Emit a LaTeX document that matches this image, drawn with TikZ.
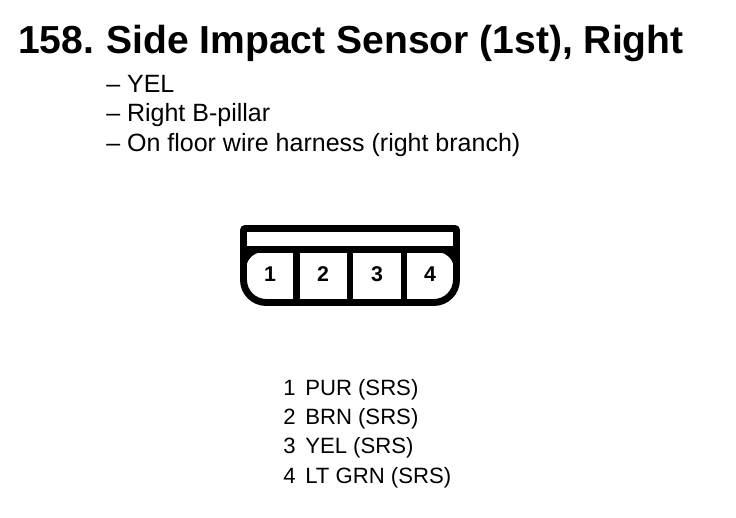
\documentclass[tikz,border=0pt]{standalone}
\usepackage{fontspec}
\setmainfont{Liberation Sans}
\tikzset{
	heading/.style={anchor=base west, inner sep=0pt, font=\fontsize{29.3}{32}\bfseries\selectfont},
	noteline/.style={anchor=base west, inner sep=0pt, font=\fontsize{18.75}{22}\selectfont},
	pinno/.style={inner sep=0pt, font=\fontsize{16}{18}\bfseries\selectfont},
	wireline/.style={anchor=base west, inner sep=0pt, font=\fontsize{16.6}{20}\selectfont},
	housing/.style={black, line width=5.2pt, line join=miter}
}
\begin{document}
\begin{tikzpicture}[x=.75pt, y=-.75pt]
	\useasboundingbox (0,0) rectangle (736,518);
	
	\node[heading] (num) at (18,53) {158.};
	\node[heading] (title) at (106,53) {Side Impact Sensor (1st), Right};
	
	\node[noteline] (n1) at (106,92) {-- YEL};
	\node[noteline] (n2) at (106,121) {-- Right B-pillar};
	\node[noteline] (n3) at (106,151) {-- On floor wire harness (right branch)};
	
	% connector
	\draw[housing, rounded corners=1.5pt] (243.5,249.5) -- (243.5,228.5) -- (456.5,228.5) -- (456.5,249.5);
	\draw[housing] (240,249.5) -- (460,249.5);
	\draw[housing, rounded corners=17pt] (243.5,249.5) -- (243.5,302.5) -- (456.5,302.5) -- (456.5,249.5);
	\draw[housing] (296.5,249.5) -- (296.5,302.5);
	\draw[housing] (350,249.5) -- (350,302.5);
	\draw[housing] (404,249.5) -- (404,302.5);
	\fill (246,252) -- (246,268) .. controls (247,259) and (253,253) .. (262,252) -- cycle;
	\fill (454,252) -- (454,268) .. controls (453,259) and (447,253) .. (438,252) -- cycle;
	
	\node[pinno] (p1) at (270,274) {1};
	\node[pinno] (p2) at (323,274) {2};
	\node[pinno] (p3) at (377,274) {3};
	\node[pinno] (p4) at (430,274) {4};
	
	\node[wireline] (w1) at (283,395) {1};
	\node[wireline] (w2) at (283,424) {2};
	\node[wireline] (w3) at (283,453) {3};
	\node[wireline] (w4) at (283,483) {4};
	\node[wireline] (t1) at (305,395) {PUR (SRS)};
	\node[wireline] (t2) at (305,424) {BRN (SRS)};
	\node[wireline] (t3) at (305,453) {YEL (SRS)};
	\node[wireline] (t4) at (305,483) {LT GRN (SRS)};
\end{tikzpicture}
\end{document}
